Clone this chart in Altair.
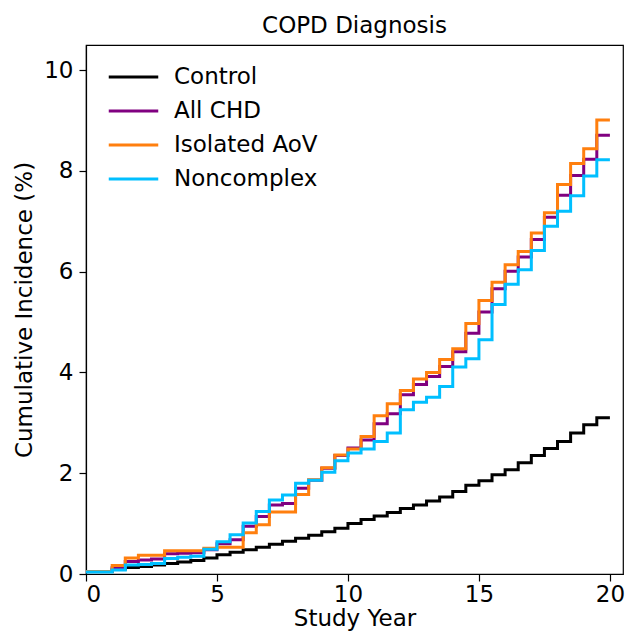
import altair as alt
import pandas as pd

years = [0, 0.5, 1, 1.5, 2, 2.5, 3, 3.5, 4, 4.5, 5, 5.5, 6, 6.5, 7, 7.5, 8, 8.5, 9, 9.5,
         10, 10.5, 11, 11.5, 12, 12.5, 13, 13.5, 14, 14.5, 15, 15.5, 16, 16.5, 17, 17.5,
         18, 18.5, 19, 19.5, 20]

control = [0.05, 0.05, 0.10, 0.13, 0.15, 0.18, 0.21, 0.24, 0.27, 0.32, 0.38, 0.43, 0.48, 0.53,
           0.59, 0.65, 0.71, 0.77, 0.84, 0.91, 1.00, 1.08, 1.15, 1.22, 1.30, 1.37, 1.45, 1.53,
           1.64, 1.76, 1.85, 1.97, 2.07, 2.21, 2.35, 2.49, 2.63, 2.80, 2.96, 3.10, 3.10]

all_chd = [0.05, 0.05, 0.13, 0.25, 0.28, 0.30, 0.40, 0.41, 0.42, 0.48, 0.60, 0.68, 0.95, 1.14,
           1.37, 1.40, 1.70, 1.86, 2.10, 2.35, 2.50, 2.66, 2.98, 3.18, 3.56, 3.76, 3.92, 4.12,
           4.41, 4.78, 5.20, 5.66, 6.01, 6.29, 6.64, 7.08, 7.52, 7.91, 8.23, 8.71, 8.71]

isolated_aov = [0.05, 0.05, 0.17, 0.32, 0.37, 0.37, 0.46, 0.46, 0.46, 0.51, 0.53, 0.53, 0.82, 0.98,
                1.23, 1.23, 1.58, 1.87, 2.11, 2.36, 2.48, 2.73, 3.14, 3.38, 3.64, 3.87, 4.00, 4.26,
                4.47, 4.97, 5.43, 5.79, 6.14, 6.40, 6.77, 7.17, 7.73, 8.15, 8.44, 9.01, 9.01]

noncomplex = [0.04, 0.04, 0.08, 0.18, 0.19, 0.21, 0.31, 0.33, 0.35, 0.49, 0.64, 0.78, 1.01, 1.24,
              1.47, 1.57, 1.80, 1.86, 2.02, 2.25, 2.40, 2.48, 2.63, 2.80, 3.26, 3.41, 3.51, 3.72,
              4.11, 4.27, 4.65, 5.35, 5.75, 6.04, 6.42, 6.90, 7.20, 7.51, 7.90, 8.22, 8.22]

names = ["Control", "All CHD", "Isolated AoV", "Noncomplex"]
colors = ["#000000", "#800080", "#ff7f0e", "#00bfff"]
series = [control, all_chd, isolated_aov, noncomplex]

x_ticks = [0, 5, 10, 15, 20]
y_ticks = [0, 2, 4, 6, 8, 10]

rows = []
for k, (name, vals) in enumerate(zip(names, series)):
    for yr, v in zip(years, vals):
        rows.append({"series": name, "year": yr, "value": v, "k": k})
df = pd.DataFrame(rows)

FONT = "DejaVu Sans"
FS = 23

chart = alt.Chart(df).mark_line(interpolate="step-after", strokeWidth=3, clip=True).encode(
    x=alt.X("year:Q",
            scale=alt.Scale(domain=[0, 20.5], nice=False, zero=False),
            axis=alt.Axis(values=x_ticks, title="Study Year", labelPadding=2, titlePadding=1)),
    y=alt.Y("value:Q",
            scale=alt.Scale(domain=[0, 10.5], nice=False),
            axis=alt.Axis(values=y_ticks, title="Cumulative Incidence (%)", labelPadding=6,
                          titlePadding=7)),
    color=alt.Color("series:N",
                    scale=alt.Scale(domain=names, range=colors),
                    legend=alt.Legend(title=None, orient="none", legendX=21, legendY=15,
                                      symbolType="stroke", symbolSize=2450,
                                      symbolStrokeWidth=3, labelFontSize=FS, labelFont=FONT,
                                      labelColor="black", labelOffset=14, rowPadding=0,
                                      clipHeight=34, padding=0)),
    order=alt.Order("k:Q"),
).properties(
    width=537,
    height=529,
    title=alt.Title("COPD Diagnosis", fontSize=FS, fontWeight="normal", font=FONT,
                    color="black", offset=7),
    padding={"left": 78, "top": 37, "right": 3, "bottom": 58},
    autosize=alt.AutoSizeParams(type="none"),
).configure_view(
    stroke="black", strokeWidth=1.2
).configure_axis(
    grid=False, domainColor="black", domainWidth=1.2, tickColor="black", tickWidth=1.2,
    tickSize=7, labelFontSize=FS, titleFontSize=FS, labelFont=FONT, titleFont=FONT,
    labelColor="black", titleColor="black", titleFontWeight="normal"
)

chart.save("out.html", embed_options={"renderer": "svg", "actions": False})
